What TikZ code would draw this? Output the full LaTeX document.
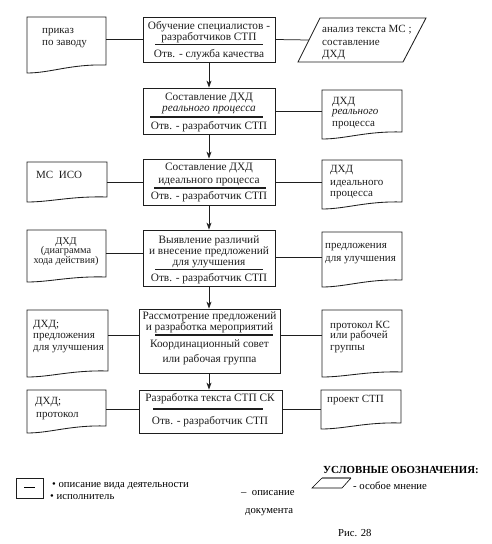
\documentclass[tikz,border=0pt]{standalone}
\usepackage{fontspec}
\setmainfont{Liberation Serif}
\usetikzlibrary{arrows.meta,fit,calc}
\definecolor{ink}{RGB}{30,30,30}
\tikzset{
  txt/.style={inner sep=0pt, font=\fontsize{11.3}{12}\selectfont, text=ink, anchor=base},
  ltxt/.style={txt, font=\fontsize{11}{12}\selectfont, anchor=base west},
  lgtxt/.style={inner sep=0pt, font=\fontsize{10.7}{12}\selectfont, text=black, anchor=base west},
  boxline/.style={draw=ink, line width=0.85pt},
  sepline/.style={draw=ink, line width=1.3pt},
  conn/.style={draw=ink, line width=0.75pt},
  flow/.style={conn, -{Stealth[length=7pt,width=5pt]}},
}
\newcommand\procbox[5]{%
  \coordinate (#1-a) at (#2,#3);
  \coordinate (#1-b) at (#4,#5);
  \node[fit=(#1-a)(#1-b), inner sep=0pt, boxline] (#1) {};}
\newcommand\docshape[6]{%
  \coordinate (#1-a) at (#2,#3);
  \coordinate (#1-b) at (#4,#5);
  \node[fit=(#1-a)(#1-b), inner sep=0pt] (#1) {};
  \draw[boxline] (#2,#3) -- (#4,#3) -- (#4,#6)
    .. controls ({#2+0.55*(#4-#2)},{#6-1}) and ({#2+0.3*(#4-#2)},{#5}) .. (#2,#5) -- cycle;}
\begin{document}
\begin{tikzpicture}[x=1pt,y=-1pt]
\useasboundingbox[fill=white] (0,0) rectangle (491,544);

% ---------- process boxes ----------
\procbox{B1}{143}{17}{275}{62}
\procbox{B2}{143}{88}{275}{134}
\procbox{B3}{143}{159}{275}{205}
\procbox{B4}{143}{230}{275}{286}
\procbox{B5}{139}{309}{280}{373}
\procbox{B6}{139}{390}{282}{433}

\node[txt] (b1a) at (209,29.5) {Обучение специалистов -};
\node[txt] (b1b) at (209,40.5) {разработчиков СТП};
\draw[sepline] (155,44.5) -- (263,44.5);
\node[txt] (b1c) at (209,57.5) {Отв. - служба качества};

\node[txt] (b2a) at (209,100.5) {Составление ДХД};
\node[txt] (b2b) at (209,111.5) {\itshape реального процесса};
\draw[sepline] (150,117) -- (263,117);
\node[txt] (b2c) at (209,129.5) {Отв. - разработчик СТП};

\node[txt] (b3a) at (209,170.5) {Составление ДХД};
\node[txt] (b3b) at (209,183.5) {идеального процесса};
\draw[sepline] (154,188) -- (266,188);
\node[txt] (b3c) at (209,199.5) {Отв. - разработчик СТП};

\node[txt] (b4a) at (209,243.5) {Выявление различий};
\node[txt] (b4b) at (209,254.5) {и внесение предложений};
\node[txt] (b4c) at (209,265.5) {для улучшения};
\draw[sepline] (155,269.5) -- (263,269.5);
\node[txt] (b4d) at (209,281.5) {Отв. - разработчик СТП};

\node[txt] (b5a) at (209.5,319.5) {Рассмотрение предложений};
\node[txt] (b5b) at (209.5,330) {и разработка мероприятий};
\draw[sepline] (155,335) -- (273,335);
\node[txt] (b5c) at (209.5,347.5) {Координационный совет};
\node[txt] (b5d) at (209.5,362.5) {или рабочая группа};

\node[txt] (b6a) at (210,401.5) {Разработка текста СТП СК};
\draw[sepline] (153,409) -- (263,409);
\node[txt] (b6b) at (210,424.5) {Отв. - разработчик СТП};

% ---------- flow arrows ----------
\draw[flow] (B1.south) -- (B1.south |- B2.north);
\draw[flow] (B2.south) -- (B2.south |- B3.north);
\draw[flow] (B3.south) -- (B3.south |- B4.north);
\draw[flow] (B4.south) -- (B4.south |- B5.north);
\draw[flow] (B4.south |- B5.south) -- (B4.south |- B6.north);

% ---------- left documents ----------
\docshape{L1}{27}{17}{106}{73}{65}
\node[ltxt] (l1a) at (42,33) {приказ};
\node[ltxt] (l1b) at (42,45) {по заводу};

\docshape{L3}{27}{162}{107}{202}{197}
\node[ltxt] (l3a) at (36,178) {МС\ \ ИСО};

\docshape{L4}{27}{230}{106}{282}{277}
\node[txt, font=\fontsize{10.3}{12}\selectfont] (l4a) at (66,244) {ДХД};
\node[txt, font=\fontsize{10.3}{12}\selectfont] (l4b) at (66,253.5) {(диаграмма};
\node[txt, font=\fontsize{10.3}{12}\selectfont] (l4c) at (66,263) {хода действия)};

\docshape{L5}{27}{310}{108}{377}{371}
\node[ltxt] (l5a) at (33,327) {ДХД;};
\node[ltxt] (l5b) at (33,338) {предложения};
\node[ltxt] (l5c) at (33,350) {для улучшения};

\docshape{L6}{27}{390}{106}{433}{426}
\node[ltxt] (l6a) at (35,404.5) {ДХД;};
\node[ltxt] (l6b) at (36,417) {протокол};

% ---------- right documents ----------
\docshape{R2}{322}{90}{402}{139}{132}
\node[ltxt] (r2a) at (332,104) {ДХД};
\node[ltxt] (r2b) at (332,114.5) {\itshape реального};
\node[ltxt] (r2c) at (332,126.5) {процесса};

\docshape{R3}{322}{160}{402}{209}{202}
\node[ltxt] (r3a) at (330,172) {ДХД};
\node[ltxt] (r3b) at (330,185) {идеального};
\node[ltxt] (r3c) at (330,196.5) {процесса};

\docshape{R4}{322}{232}{402}{287}{280}
\node[ltxt] (r4a) at (325,248) {предложения};
\node[ltxt] (r4b) at (325,261) {для улучшения};

\docshape{R5}{322}{310}{402}{377}{372}
\node[ltxt] (r5a) at (330,328) {протокол КС};
\node[ltxt] (r5b) at (330,338.5) {или рабочей};
\node[ltxt] (r5c) at (330,350) {группы};

\docshape{R6}{321}{390}{401}{429}{423}
\node[ltxt] (r6a) at (327,402) {проект СТП};

% ---------- special opinion (parallelogram) ----------
\coordinate (P1-a) at (298,18);
\coordinate (P1-b) at (426,62);
\node[fit=(P1-a)(P1-b), inner sep=0pt] (P1) {};
\draw[boxline] (320,18) -- (426,18) -- (403,62) -- (298,62) -- cycle;
\coordinate (P1w) at (309,40);
\node[ltxt] (p1a) at (322,32) {анализ текста МС ;};
\node[ltxt] (p1b) at (322,45) {составление};
\node[ltxt] (p1c) at (322,57) {ДХД};

% ---------- connectors ----------
\draw[conn] (B1.west) -- (B1.west -| L1.east);
\draw[conn] (B1.east) -- (P1w);
\draw[conn] (B2.east) -- (B2.east -| R2.west);
\draw[conn] (B3.west) -- (B3.west -| L3.east);
\draw[conn] (B3.east) -- (B3.east -| R3.west);
\draw[conn] ([yshift=5pt]B4.west) -- ([yshift=5pt]B4.west -| L4.east);
\draw[conn] ([yshift=1pt]B4.east) -- ([yshift=1pt]B4.east -| R4.west);
\draw[conn] ([yshift=6pt]B5.west) -- ([yshift=6pt]B5.west -| L5.east);
\draw[conn] ([yshift=6pt]B5.east) -- ([yshift=6pt]B5.east -| R5.west);
\draw[conn] ([yshift=2pt]B6.west) -- ([yshift=2pt]B6.west -| L6.east);
\draw[conn] ([yshift=2pt]B6.east) -- ([yshift=2pt]B6.east -| R6.west);

% ---------- legend ----------
\node[lgtxt, font=\fontsize{10.8}{12}\selectfont\bfseries] (lgt) at (323,473) {УСЛОВНЫЕ ОБОЗНАЧЕНИЯ:};
\procbox{LB}{16}{478}{43}{498}
\coordinate (LBl) at (24,487);
\coordinate (LBr) at (35,487);
\draw[line width=0.9pt] (LBl) -- (LBr);
\node[lgtxt] (lg1) at (52,487) {\textbullet\ описание вида деятельности};
\node[lgtxt] (lg2) at (50,499) {\textbullet\ исполнитель};
\node[lgtxt] (lg3) at (241,495) {–\ \ описание};
\node[lgtxt] (lg4) at (245,513) {документа};
\draw[line width=0.6pt] (342,488) -- (312,488) -- (322,478);
\draw[line width=1.4pt, draw=gray] (322,478) -- (351,478);
\draw[line width=0.6pt] (351,478) -- (342,488);
\node[lgtxt] (lg5) at (353,489) {- особое мнение};
\node[lgtxt] (fig) at (338,536) {Рис. 28};
\end{tikzpicture}
\end{document}
